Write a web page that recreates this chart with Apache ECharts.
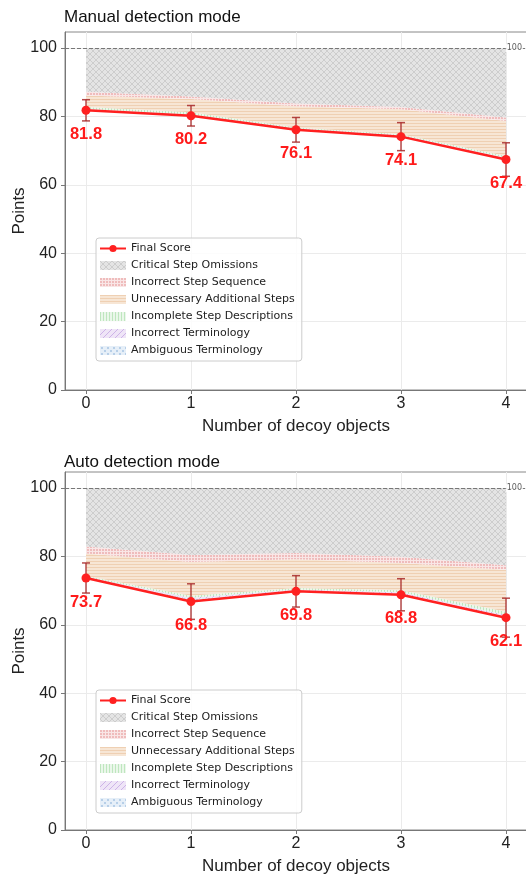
<!DOCTYPE html>
<html>
<head>
<meta charset="utf-8">
<script src="https://cdn.jsdelivr.net/npm/echarts@6.0.0/dist/echarts.min.js"></script>
<style>
  html, body { margin: 0; padding: 0; background: #fff; }
  #chart { width: 526px; height: 876px; }
</style>
</head>
<body>
<div id="chart"></div>
<script>
// number of decoy objects on the x axis
const decoys = [0, 1, 2, 3, 4]
const yTicks = [0, 20, 40, 60, 80, 100]
const refValue = 100
const refLabelX = 4.08

// manual detection mode
const manualScore = [81.8, 80.2, 76.1, 74.1, 67.4]
const manualErr = [3.1, 3.0, 3.6, 4.1, 4.9]
const manualAmbiguous = [0.2, 0.2, 0.2, 0.2, 0.3]
const manualTerminology = [0.2, 0.2, 0.2, 0.2, 0.2]
const manualIncomplete = [0.6, 0.6, 0.3, 0.3, 0.5]
const manualUnnecessary = [3.3, 3.9, 6.2, 7.3, 10.3]
const manualSequence = [1.1, 0.7, 0.8, 0.7, 1.0]
const manualCritical = [12.8, 14.2, 16.2, 17.2, 20.3]

// auto detection mode
const autoScore = [73.7, 66.8, 69.8, 68.8, 62.1]
const autoErr = [4.4, 5.2, 4.6, 4.7, 5.7]
const autoAmbiguous = [0.2, 0.6, 0.3, 0.4, 0.4]
const autoTerminology = [0.1, 0.5, 0.2, 0.3, 0.4]
const autoIncomplete = [0.3, 0.6, 0.5, 0.6, 0.9]
const autoUnnecessary = [6.6, 9.9, 8.4, 8.0, 12.3]
const autoSequence = [2.0, 2.0, 1.8, 1.8, 1.3]
const autoCritical = [17.1, 19.6, 19.0, 20.1, 22.6]

const bandNames = [
  'Critical Step Omissions',
  'Incorrect Step Sequence',
  'Unnecessary Additional Steps',
  'Incomplete Step Descriptions',
  'Incorrect Terminology',
  'Ambiguous Terminology'
]

// hatched fills, drawn on a tiny canvas and repeated
function hatch(bg, stroke, kind) {
  const c = document.createElement('canvas')
  c.width = 6
  c.height = 6
  const g = c.getContext('2d')
  g.fillStyle = bg
  g.fillRect(0, 0, 6, 6)
  g.strokeStyle = stroke
  g.fillStyle = stroke
  g.lineWidth = 1
  g.beginPath()
  if (kind === 'x') {
    g.moveTo(0, 0); g.lineTo(6, 6)
    g.moveTo(6, 0); g.lineTo(0, 6)
    g.stroke()
  } else if (kind === 'h') {
    g.fillRect(0, 0, 6, 1)
    g.fillRect(0, 3, 6, 1)
  } else if (kind === 'v') {
    g.fillRect(0, 0, 1, 6)
    g.fillRect(3, 0, 1, 6)
  } else if (kind === 'd') {
    g.moveTo(0, 6); g.lineTo(6, 0)
    g.moveTo(-3, 3); g.lineTo(3, -3)
    g.moveTo(3, 9); g.lineTo(9, 3)
    g.stroke()
  } else if (kind === 'grid') {
    g.fillRect(0, 0, 2, 2)
    g.fillRect(3, 0, 2, 2)
    g.fillRect(0, 3, 2, 2)
    g.fillRect(3, 3, 2, 2)
  } else if (kind === 'dot') {
    g.fillRect(1, 1, 2, 2)
    g.fillRect(4, 4, 2, 2)
  }
  return { image: c, repeat: 'repeat' }
}

const fills = {
  'Critical Step Omissions': hatch('#e4e4e4', '#cdcdcd', 'x'),
  'Incorrect Step Sequence': hatch('#f9e6e6', '#efbcbc', 'grid'),
  'Unnecessary Additional Steps': hatch('#f7e6d5', '#efd0b3', 'h'),
  'Incomplete Step Descriptions': hatch('#eaf7ea', '#bfe6bf', 'v'),
  'Incorrect Terminology': hatch('#efe5f7', '#cdb3e8', 'd'),
  'Ambiguous Terminology': hatch('#e6eff8', '#b7cfe8', 'dot')
}

// bottom-up order of the stacked bands above the final score
const stackOrder = [
  'Ambiguous Terminology',
  'Incorrect Terminology',
  'Incomplete Step Descriptions',
  'Unnecessary Additional Steps',
  'Incorrect Step Sequence',
  'Critical Step Omissions'
]

const pair = arr => arr.map((v, i) => [decoys[i], v])

function panel(idx, score, err, bands) {
  const list = []
  let level = score.slice()
  stackOrder.forEach(name => {
    const lower = level
    const upper = lower.map((v, i) => v + bands[name][i])
    level = upper
    list.push({
      name: name,
      type: 'custom',
      xAxisIndex: idx,
      yAxisIndex: idx,
      silent: true,
      z: 1,
      itemStyle: { color: fills[name] },
      data: [[decoys[0], upper[0]]],
      encode: { x: 0, y: 1 },
      renderItem: function (params, api) {
        const top = upper.map((v, i) => api.coord([decoys[i], v]))
        const bottom = lower.map((v, i) => api.coord([decoys[i], v])).reverse()
        return {
          type: 'polygon',
          shape: { points: top.concat(bottom) },
          style: { fill: fills[name] }
        }
      }
    })
  })
  list.push({
    name: 'errbar' + idx,
    type: 'custom',
    xAxisIndex: idx,
    yAxisIndex: idx,
    silent: true,
    z: 3,
    data: score.map((v, i) => [decoys[i], v - err[i], v + err[i]]),
    encode: { x: 0, y: [1, 2] },
    renderItem: function (params, api) {
      const lo = api.coord([api.value(0), api.value(1)])
      const hi = api.coord([api.value(0), api.value(2)])
      const style = { stroke: '#a82a2a', lineWidth: 1.5, opacity: 0.85 }
      const w = 4
      return {
        type: 'group',
        children: [
          { type: 'line', shape: { x1: lo[0], y1: lo[1], x2: hi[0], y2: hi[1] }, style: style },
          { type: 'line', shape: { x1: lo[0] - w, y1: lo[1], x2: lo[0] + w, y2: lo[1] }, style: style },
          { type: 'line', shape: { x1: hi[0] - w, y1: hi[1], x2: hi[0] + w, y2: hi[1] }, style: style }
        ]
      }
    }
  })
  list.push({
    name: 'Final Score',
    type: 'line',
    xAxisIndex: idx,
    yAxisIndex: idx,
    data: pair(score),
    symbol: 'circle',
    symbolSize: 9,
    z: 4,
    itemStyle: { color: '#ff2020' },
    lineStyle: { color: '#ff2020', width: 2.5 },
    label: {
      show: true,
      position: 'bottom',
      distance: 11,
      formatter: p => p.value[1].toFixed(1),
      color: '#ff1a1a',
      fontWeight: 'bold',
      fontSize: 16.5
    },
    markLine: {
      silent: true,
      symbol: 'none',
      label: { show: false },
      lineStyle: { type: 'dashed', color: '#777', width: 1 },
      data: [{ yAxis: refValue }]
    }
  })
  list.push({
    name: 'ref' + idx,
    type: 'scatter',
    xAxisIndex: idx,
    yAxisIndex: idx,
    data: [[refLabelX, refValue]],
    symbolSize: 0,
    silent: true,
    z: 5,
    label: {
      show: true,
      position: 'inside',
      formatter: String(refValue),
      fontSize: 8,
      color: '#333',
      fontFamily: 'DejaVu Sans',
      backgroundColor: '#fff',
      padding: [0, 1]
    }
  })
  return list
}

function xAxis(idx) {
  return {
    gridIndex: idx,
    type: 'value',
    min: -0.2,
    max: 4.2,
    name: 'Number of decoy objects',
    nameLocation: 'middle',
    nameGap: 28,
    nameTextStyle: { fontSize: 17, color: '#222' },
    axisLine: { onZero: false, lineStyle: { color: '#777' } },
    axisTick: { customValues: decoys, length: 4, lineStyle: { color: '#777' } },
    axisLabel: { customValues: decoys, fontSize: 16, color: '#222', margin: 6 },
    splitLine: { show: true, lineStyle: { color: '#ebebeb' } }
  }
}

function yAxis(idx) {
  return {
    gridIndex: idx,
    type: 'value',
    min: 0,
    max: 104.7,
    name: 'Points',
    nameLocation: 'middle',
    nameGap: 37,
    nameMoveOverlap: false,
    nameRotate: 90,
    nameTextStyle: { fontSize: 17, color: '#222' },
    axisLine: { show: true, onZero: false, lineStyle: { color: '#777' } },
    axisTick: { show: true, customValues: yTicks, length: 4, lineStyle: { color: '#777' } },
    axisLabel: { customValues: yTicks, fontSize: 16, color: '#222', margin: 8 },
    splitLine: { show: true, lineStyle: { color: '#ebebeb' } }
  }
}

function legend(top) {
  return {
    orient: 'vertical',
    left: 96,
    top: top,
    itemWidth: 26,
    itemHeight: 9,
    itemGap: 4,
    padding: [4, 7, 4, 3],
    backgroundColor: 'rgba(255,255,255,0.85)',
    borderColor: '#cccccc',
    borderWidth: 1,
    borderRadius: 3,
    textStyle: { fontSize: 11, lineHeight: 13, color: '#222', fontFamily: 'DejaVu Sans' },
    data: [{ name: 'Final Score' }].concat(bandNames.map(n => ({
      name: n,
      icon: 'rect',
      itemStyle: { color: fills[n] }
    })))
  }
}

const chart = echarts.init(document.getElementById('chart'))
chart.setOption({
  animation: false,
  textStyle: { fontFamily: 'Liberation Sans, Arial, sans-serif' },
  title: [
    { text: 'Manual detection mode', left: 59, top: 4, textStyle: { fontSize: 17, fontWeight: 'normal', color: '#111' } },
    { text: 'Auto detection mode', left: 59, top: 449, textStyle: { fontSize: 17, fontWeight: 'normal', color: '#111' } }
  ],
  legend: [legend(238), legend(690)],
  grid: [
    { left: 65, top: 32, width: 462, height: 358, outerBoundsMode: 'none', show: true, borderColor: '#888', borderWidth: 1 },
    { left: 65, top: 472, width: 462, height: 358, outerBoundsMode: 'none', show: true, borderColor: '#888', borderWidth: 1 }
  ],
  xAxis: [xAxis(0), xAxis(1)],
  yAxis: [yAxis(0), yAxis(1)],
  series: panel(0, manualScore, manualErr, {
    'Ambiguous Terminology': manualAmbiguous,
    'Incorrect Terminology': manualTerminology,
    'Incomplete Step Descriptions': manualIncomplete,
    'Unnecessary Additional Steps': manualUnnecessary,
    'Incorrect Step Sequence': manualSequence,
    'Critical Step Omissions': manualCritical
  }).concat(panel(1, autoScore, autoErr, {
    'Ambiguous Terminology': autoAmbiguous,
    'Incorrect Terminology': autoTerminology,
    'Incomplete Step Descriptions': autoIncomplete,
    'Unnecessary Additional Steps': autoUnnecessary,
    'Incorrect Step Sequence': autoSequence,
    'Critical Step Omissions': autoCritical
  }))
})
</script>
</body>
</html>
